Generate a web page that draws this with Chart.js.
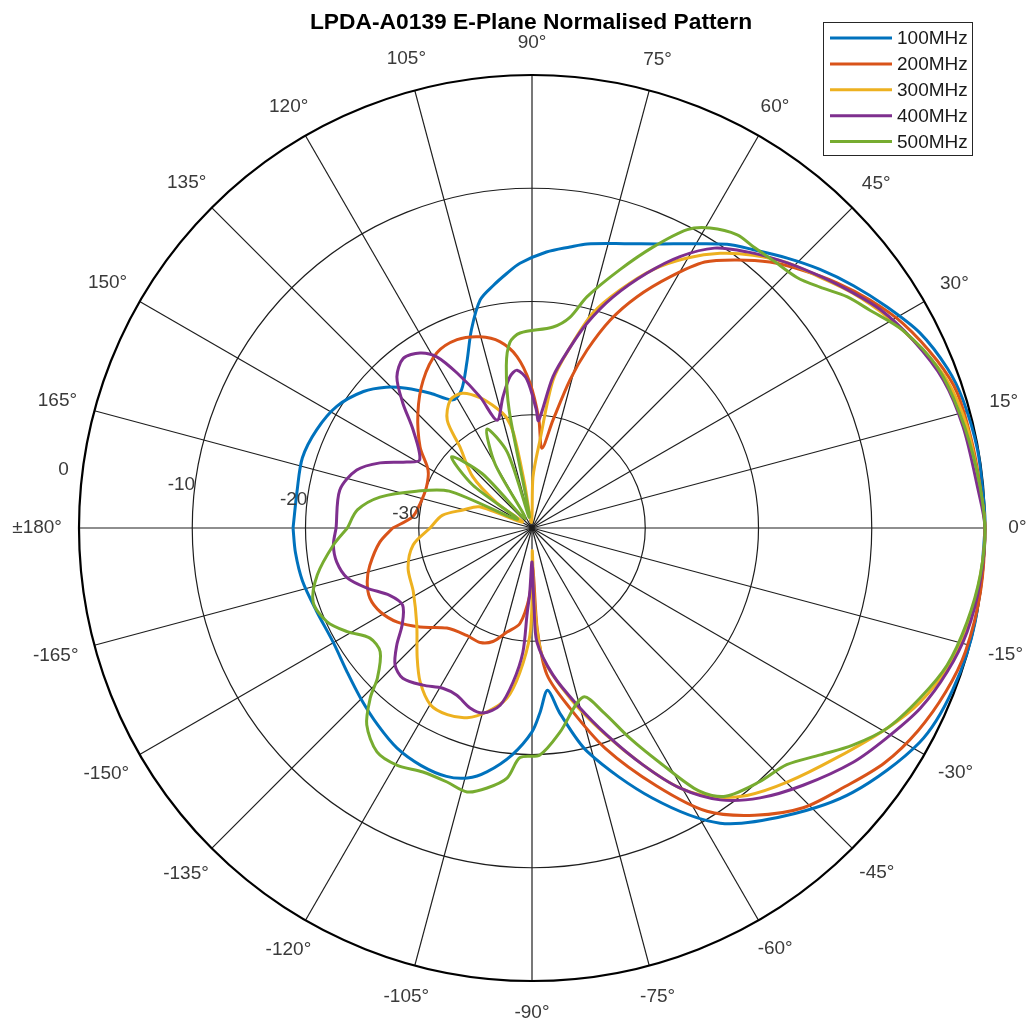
<!DOCTYPE html>
<html>
<head>
<meta charset="utf-8">
<script src="https://cdn.jsdelivr.net/npm/chart.js@4.4.0/dist/chart.umd.min.js"></script>
<style>
  html, body { margin: 0; padding: 0; background: #fff; }
  #wrap { width: 1031px; height: 1030px; position: relative; }
</style>
</head>
<body>
<div id="wrap"><canvas id="chart"></canvas></div>
<script>
const chartTitle = "LPDA-A0139 E-Plane Normalised Pattern";
const seriesNames = ["100MHz", "200MHz", "300MHz", "400MHz", "500MHz"];
const seriesColors = ["#0072BD", "#D95319", "#EDB120", "#7E2F8E", "#77AC30"];

// radial axis (dB), centre of the plot is rMin
const rMin = -40;
const rTicks = [-30, -20, -10, 0];
const rTickLabels = ["-30", "-20", "-10", "0"];
const rLabelAngle = 172.5;

// angle grid
const thetaTicks = [0, 15, 30, 45, 60, 75, 90, 105, 120, 135, 150, 165, 180,
  -165, -150, -135, -120, -105, -90, -75, -60, -45, -30, -15];
const thetaLabels = ["0°", "15°", "30°", "45°", "60°", "75°", "90°", "105°", "120°", "135°", "150°", "165°", "±180°",
  "-165°", "-150°", "-135°", "-120°", "-105°", "-90°", "-75°", "-60°", "-45°", "-30°", "-15°"];

// 100 MHz
const ang100 = [-180, -174, -167, -159, -150, -142, -135, -128, -121.5, -115, -109, -104.5, -100.5, -95, -90, -87.5, -84.5, -81.5, -76, -66, -57.5, -48.5, -39.5, -29, -21, -12, 0, 4, 10, 16.5, 21, 26.7, 32, 37, 42, 46.6, 51.5, 55.5, 61, 66, 72, 79, 82.3, 87, 92.6, 95.6, 99, 102.8, 107, 111.5, 117, 121.7, 127, 132, 136, 141, 148, 155.5, 163, 171, 180];
const db100 = [-18.9, -19.0, -19.2, -19.6, -19.75, -19.3, -18.65, -17.9, -17.2, -16.85, -16.8, -17.2, -18.1, -19.9, -22.0, -23.7, -25.6, -23.5, -19.6, -13.9, -9.1, -6.1, -3.3, -0.9, -0.2, 0, 0, -0.05, -0.06, -0.3, -0.7, -1.66, -3.1, -4.45, -5.85, -7.2, -8.6, -9.6, -11.3, -12.55, -13.6, -14.45, -14.96, -15.6, -16.6, -17.4, -18.3, -19.35, -21.7, -24.3, -26.3, -26.7, -25.1, -23.4, -22.1, -20.85, -19.7, -19.1, -18.8, -19.0, -18.9];

// 200 MHz
const ang200 = [-180, -174.7, -167, -162, -156.6, -151, -145, -138.5, -130.4, -121.3, -114.3, -109, -103.5, -97.2, -92, -89, -87, -84.2, -78.1, -71.6, -64.2, -58.3, -52.2, -45.9, -39.4, -33.7, -27.7, -21.6, -15.9, -8, 0, 4, 10.4, 17.6, 22.5, 28.9, 34, 38.8, 43.6, 48.2, 52.6, 57, 61.2, 65.6, 69.4, 72.8, 75.6, 79, 82.9, 86.5, 90.8, 95, 99.8, 105.2, 111.7, 118.5, 126.4, 134.8, 144.1, 150.9, 158.7, 167.4, 174.7, 180];
const db200 = [-27.7, -26.5, -25.3, -24.7, -24.4, -24.7, -25.5, -26.8, -28.4, -28.9, -28.9, -29.4, -30.55, -31.5, -34, -36.5, -31, -27.0, -23.75, -19.5, -14.7, -10.6, -7.9, -5.6, -4.1, -2.6, -1.5, -0.7, -0.2, 0, 0, -0.2, -0.4, -0.6, -1.3, -2.6, -4.0, -5.45, -7.0, -8.5, -10.2, -12.0, -14.7, -17.6, -20.4, -23.55, -26.5, -30.3, -32.9, -30.3, -27.2, -24.8, -23.3, -22.5, -22.1, -22.4, -23.8, -25.7, -27.8, -29.5, -30.0, -29.9, -29.4, -27.7];

// 300 MHz
const ang300 = [-180, -171.9, -162.1, -151.7, -139.9, -131.5, -126, -119.9, -114.4, -108.9, -103.7, -98.4, -94.8, -91.1, -89.8, -89.2, -88, -85.2, -77.4, -70.8, -64.9, -60.4, -56.1, -51.2, -44.9, -37, -29.4, -24.2, -18.6, -12.6, -6.4, 0, 5.2, 13.1, 19.6, 25, 30.7, 36.2, 41.1, 46.1, 51, 55.6, 60.1, 64.9, 69.7, 74.2, 78.1, 81.9, 84.8, 88.9, 95, 99.5, 101, 103, 106.3, 111.8, 117.4, 122.6, 128.2, 131.6, 139.2, 144.5, 149, 158, 165.4, 172, 180];
const db300 = [-31.0, -29.4, -28.5, -28.1, -26.7, -24.7, -23.2, -22.0, -21.9, -22.3, -23.3, -24.8, -27.2, -30.55, -34.3, -38, -33, -28.5, -24.6, -20.9, -16.9, -13.6, -11.4, -9.7, -8.2, -6.3, -4.0, -2.45, -1.3, -0.65, -0.2, 0, -0.3, -0.56, -1.1, -2.2, -3.5, -4.9, -6.3, -7.5, -9.0, -10.6, -12.5, -14.8, -17.6, -20.3, -23.7, -26.8, -32.2, -35.5, -39.5, -36, -31.5, -30, -29.0, -27.6, -26.6, -26.6, -27.9, -30.4, -33.1, -36.2, -39, -35, -33.7, -32, -31.0];

// 400 MHz
const ang400 = [-180, -175.1, -170.1, -164.9, -160, -154.7, -149.2, -143.3, -139.1, -135, -130.7, -124.8, -119.1, -114.2, -109, -104.8, -100.2, -97, -94.2, -93.3, -92, -90, -88.5, -87.5, -81.9, -75.7, -70.1, -64.9, -60.4, -55.3, -49.8, -43.5, -36.1, -30.6, -24.9, -19.1, -13.4, -6.9, 0, 5.3, 13.2, 19.8, 26.3, 32.1, 37.1, 42.2, 47.2, 52.1, 56.9, 61.4, 65.7, 70.7, 75, 78.1, 82.1, 86.5, 88, 91.9, 95.4, 98.3, 102.5, 108, 111.6, 115.8, 119.1, 122.6, 127.2, 131.8, 135.9, 140.5, 148.7, 152.2, 156.8, 161.7, 168.8, 180];
const db400 = [-22.7, -22.4, -22.5, -23.1, -24.5, -26.1, -26.7, -25.7, -24.2, -22.9, -22.5, -23.1, -23.8, -23.8, -23.2, -23.1, -24.1, -26.3, -29.0, -32.3, -34.3, -37, -33, -29.9, -26.9, -23.9, -20.55, -16.9, -13.6, -10.8, -8.8, -7.0, -4.9, -3.6, -2.2, -1.2, -0.5, -0.15, 0, -0.5, -0.9, -1.4, -2.5, -3.7, -5.1, -6.5, -7.8, -9.1, -10.5, -12.7, -15.3, -18.4, -21.3, -23.7, -26.5, -30.5, -29.5, -26.9, -26.0, -26.5, -28.15, -30.0, -27.55, -24.8, -22.7, -21.65, -21.2, -22.1, -24.1, -26.4, -28.4, -27.5, -25.4, -23.7, -22.7, -22.7];

// 500 MHz
const ang500 = [-180, -175.1, -167.7, -161.3, -155.4, -150.7, -145.8, -140.8, -135.9, -133.6, -130, -124.7, -119.7, -114.1, -108.5, -103.8, -99.8, -95.7, -93, -88, -82.2, -73.2, -68.9, -65, -61.1, -57.6, -54.2, -48.1, -42.9, -38.2, -34.1, -29.4, -23.7, -18.3, -12.2, -6, 0, 7.4, 15, 21.7, 28.1, 32.8, 36.3, 39.9, 43.4, 48, 51.8, 55, 59.3, 62.5, 66.7, 71.2, 76.6, 79.8, 84, 93.5, 96.8, 99, 101, 103.5, 108, 114.5, 120, 126, 132.5, 138.5, 144, 149.5, 156, 162.3, 168.5, 174.1, 180];
const db500 = [-23.7, -22.4, -20.6, -19.6, -20.1, -21.3, -22.7, -22.7, -21.0, -19.3, -17.3, -15.95, -15.9, -16.4, -16.35, -16.0, -16.7, -17.8, -19.7, -19.95, -21.8, -24.4, -22.6, -19.5, -16.1, -12.5, -10.8, -9.9, -9.3, -7.6, -5.8, -4.0, -2.6, -1.4, -0.7, -0.2, 0, -0.4, -0.9, -1.5, -2.9, -4.5, -5.5, -6.85, -7.8, -8.2, -8.4, -8.4, -9.2, -10.3, -13.0, -15.9, -19.0, -21.1, -22.15, -22.75, -23.5, -25.5, -29.5, -39, -33, -30.4, -33.5, -39, -33.5, -30.5, -33.5, -38.5, -32, -29.3, -26.3, -24.5, -23.7];

const seriesAngles = [ang100, ang200, ang300, ang400, ang500];
const seriesDb = [db100, db200, db300, db400, db500];

// polar (deg, dB) -> data units of the x/y scales
function toXY(angles, dbs) {
  return angles.map((a, i) => {
    const r = Math.max(dbs[i], rMin) - rMin;
    const t = a * Math.PI / 180;
    return { x: r * Math.cos(t), y: r * Math.sin(t) };
  });
}

// layout of the picture
const W = 1031, H = 1030;
const centre = [532, 528];
const outerPx = 453;
const unitPx = outerPx / (rTicks[rTicks.length - 1] - rMin);
const labelFont = '19px "Liberation Sans", Arial, sans-serif';

const polarGrid = {
  id: "polarGrid",
  beforeDatasetsDraw(chart) {
    const { ctx, scales: { x, y } } = chart;
    const cx = x.getPixelForValue(0), cy = y.getPixelForValue(0);
    const R = x.getPixelForValue(rTicks[rTicks.length - 1] - rMin) - cx;
    ctx.save();
    ctx.strokeStyle = "#1e1e1e";
    ctx.lineWidth = 1.2;
    thetaTicks.forEach(t => {
      const a = t * Math.PI / 180;
      ctx.beginPath();
      ctx.moveTo(cx, cy);
      ctx.lineTo(cx + R * Math.cos(a), cy - R * Math.sin(a));
      ctx.stroke();
    });
    rTicks.forEach((v, i) => {
      const r = x.getPixelForValue(v - rMin) - cx;
      const outer = i === rTicks.length - 1;
      ctx.beginPath();
      ctx.lineWidth = outer ? 2.2 : 1.2;
      ctx.strokeStyle = outer ? "#000" : "#1e1e1e";
      ctx.arc(cx, cy, r, 0, Math.PI * 2);
      ctx.stroke();
    });
    ctx.restore();
  },
  afterDraw(chart) {
    const { ctx, scales: { x, y } } = chart;
    const cx = x.getPixelForValue(0), cy = y.getPixelForValue(0);
    const R = x.getPixelForValue(rTicks[rTicks.length - 1] - rMin) - cx;
    ctx.save();
    // angle labels, pushed out by their own size
    ctx.font = labelFont;
    ctx.fillStyle = "#3a3a3a";
    ctx.textAlign = "center";
    ctx.textBaseline = "middle";
    thetaTicks.forEach((t, i) => {
      const a = t * Math.PI / 180;
      const hw = ctx.measureText(thetaLabels[i]).width / 2;
      const c = Math.cos(a), s = Math.sin(a);
      const rr = R + 27 + 0.6 * hw * c * c + 5 * s * s;
      ctx.fillText(thetaLabels[i], cx + rr * c, cy - rr * s);
    });
    // radial labels
    ctx.textAlign = "right";
    const la = rLabelAngle * Math.PI / 180;
    rTicks.forEach((v, i) => {
      const r = x.getPixelForValue(v - rMin) - cx;
      const gap = i === rTicks.length - 1 ? 14 : 0;
      ctx.fillText(rTickLabels[i], cx + r * Math.cos(la) - gap, cy - r * Math.sin(la) + 1);
    });
    // title
    ctx.fillStyle = "#000";
    ctx.textAlign = "center";
    ctx.textBaseline = "alphabetic";
    ctx.font = 'bold 22.8px "Liberation Sans", Arial, sans-serif';
    ctx.fillText(chartTitle, 531, 28.5);
    // legend
    const bx = 823, by = 22, bw = 149, bh = 133;
    ctx.fillStyle = "#fff";
    ctx.fillRect(bx, by, bw, bh);
    ctx.strokeStyle = "#262626";
    ctx.lineWidth = 1;
    ctx.strokeRect(bx + 0.5, by + 0.5, bw, bh);
    ctx.font = labelFont;
    ctx.textAlign = "left";
    ctx.textBaseline = "middle";
    seriesNames.forEach((name, i) => {
      const ly = 38 + i * 25.9;
      ctx.strokeStyle = seriesColors[i];
      ctx.lineWidth = 3;
      ctx.beginPath();
      ctx.moveTo(830, ly);
      ctx.lineTo(892, ly);
      ctx.stroke();
      ctx.fillStyle = "#1a1a1a";
      ctx.fillText(name, 897, ly + 1);
    });
    ctx.restore();
  }
};

new Chart(document.getElementById("chart"), {
  type: "scatter",
  data: {
    datasets: seriesNames.map((name, i) => ({
      label: name,
      data: toXY(seriesAngles[i], seriesDb[i]),
      showLine: true,
      borderColor: seriesColors[i],
      backgroundColor: seriesColors[i],
      borderWidth: 3,
      pointRadius: 0,
      tension: 0.3,
      order: seriesNames.length - i
    }))
  },
  options: {
    responsive: true,
    maintainAspectRatio: false,
    animation: false,
    layout: { padding: 0 },
    plugins: {
      legend: { display: false },
      title: { display: false },
      tooltip: { enabled: false }
    },
    scales: {
      x: { type: "linear", display: false, min: -centre[0] / unitPx, max: (W - centre[0]) / unitPx },
      y: { type: "linear", display: false, min: -(H - centre[1]) / unitPx, max: centre[1] / unitPx }
    }
  },
  plugins: [polarGrid]
});
</script>
</body>
</html>
